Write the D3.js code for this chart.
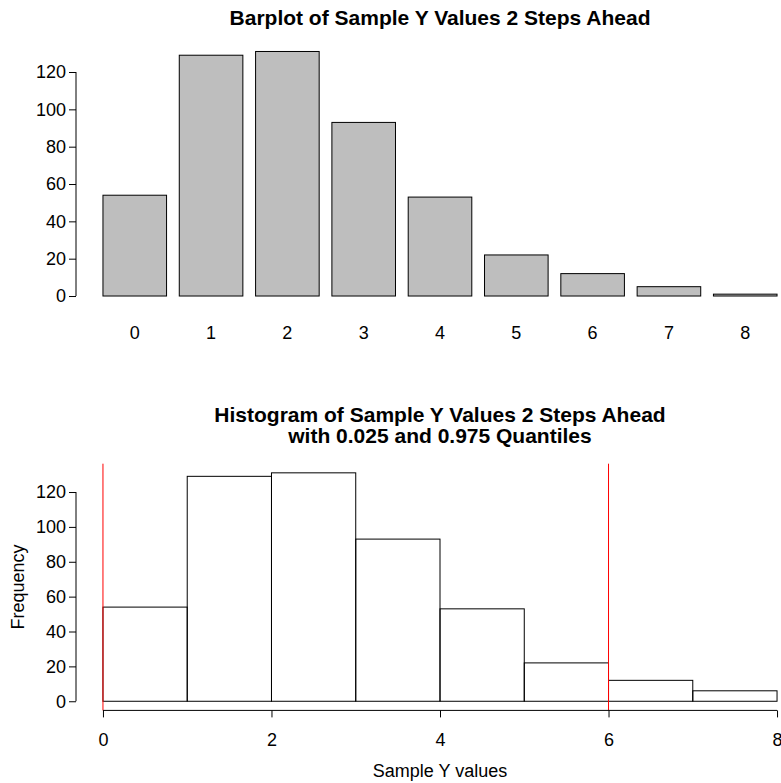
<!DOCTYPE html>
<html>
<head>
<meta charset="utf-8">
<script src="https://cdn.jsdelivr.net/npm/d3@7"></script>
<style>
  body { margin: 0; background: #fff; }
  svg { font-family: "Liberation Sans", Arial, Helvetica, sans-serif; }
</style>
</head>
<body>
<div id="chart"></div>
<script>
var canvasWidth = 781;
var canvasHeight = 783;

/*Data*/
var categories = ["0", "1", "2", "3", "4", "5", "6", "7", "8"];
var barCounts = [54, 129, 131, 93, 53, 22, 12, 5, 1];
var histBreaks = [0, 1, 2, 3, 4, 5, 6, 7, 8];
var histCounts = [54, 129, 131, 93, 53, 22, 12, 6];
var quantiles = [0, 6];
var yTicks = [0, 20, 40, 60, 80, 100, 120];
var histXTicks = [0, 2, 4, 6, 8];

var axisFont = "18px";
var titleFont = "21px";

var svg = d3.select("div#chart").append("svg")
    .attr("width", canvasWidth)
    .attr("height", canvasHeight);

/*Plot region (R style, 4% padding on the data range)*/
var plotLeft = 76, plotRight = 804;

function styleAxisText(g) {
    g.selectAll("text")
        .style("font-size", axisFont)
        .style("font-family", "Liberation Sans, Arial, sans-serif")
        .attr("fill", "#000");
}

/*---------- Barplot ----------*/
var xScaleB = d3.scaleLinear().domain([-0.224, 11.224]).range([plotLeft, plotRight]);
var yScaleB = d3.scaleLinear().domain([-5.24, 136.24]).range([305.8, 41.7]);

svg.append("text")
    .attr("x", 440)
    .attr("y", 25)
    .attr("text-anchor", "middle")
    .style("font-weight", "bold")
    .style("font-size", titleFont)
    .text("Barplot of Sample Y Values 2 Steps Ahead");

svg.append("g").selectAll("rect")
    .data(barCounts)
    .join("rect")
    .attr("x", function(d, i) { return xScaleB(0.2 + 1.2 * i); })
    .attr("width", function(d, i) { return xScaleB(1.2 + 1.2 * i) - xScaleB(0.2 + 1.2 * i); })
    .attr("y", function(d) { return yScaleB(d); })
    .attr("height", function(d) { return yScaleB(0) - yScaleB(d); })
    .attr("fill", "#bebebe")
    .attr("stroke", "#000")
    .attr("stroke-width", 1);

/*category names under bars*/
svg.append("g").selectAll("text")
    .data(categories)
    .join("text")
    .attr("x", function(d, i) { return xScaleB(0.7 + 1.2 * i); })
    .attr("y", 339)
    .attr("text-anchor", "middle")
    .style("font-size", axisFont)
    .text(function(d) { return d; });

/*Y axis*/
var yAxisB = svg.append("g")
    .attr("transform", "translate(" + plotLeft + ",0)")
    .call(d3.axisLeft(yScaleB).tickValues(yTicks).tickSize(7).tickPadding(3));
yAxisB.select(".domain").remove();
yAxisB.append("line")
    .attr("x1", 0).attr("x2", 0)
    .attr("y1", yScaleB(d3.min(yTicks))).attr("y2", yScaleB(d3.max(yTicks)))
    .attr("stroke", "#000");
styleAxisText(yAxisB);

/*---------- Histogram ----------*/
var xScaleH = d3.scaleLinear().domain([-0.32, 8.32]).range([plotLeft, plotRight]);
var yScaleH = d3.scaleLinear().domain([-5.24, 136.24]).range([710.4, 463.7]);

svg.append("text")
    .attr("x", 440)
    .attr("y", 422)
    .attr("text-anchor", "middle")
    .style("font-weight", "bold")
    .style("font-size", titleFont)
    .text("Histogram of Sample Y Values 2 Steps Ahead");
svg.append("text")
    .attr("x", 440)
    .attr("y", 443)
    .attr("text-anchor", "middle")
    .style("font-weight", "bold")
    .style("font-size", titleFont)
    .text("with 0.025 and 0.975 Quantiles");

svg.append("g").selectAll("rect")
    .data(histCounts)
    .join("rect")
    .attr("x", function(d, i) { return xScaleH(histBreaks[i]); })
    .attr("width", function(d, i) { return xScaleH(histBreaks[i + 1]) - xScaleH(histBreaks[i]); })
    .attr("y", function(d) { return yScaleH(d); })
    .attr("height", function(d) { return yScaleH(0) - yScaleH(d); })
    .attr("fill", "none")
    .attr("stroke", "#000")
    .attr("stroke-width", 1);

/*quantile lines*/
svg.append("g").selectAll("line")
    .data(quantiles)
    .join("line")
    .attr("x1", function(d) { return xScaleH(d); })
    .attr("x2", function(d) { return xScaleH(d); })
    .attr("y1", yScaleH.range()[1])
    .attr("y2", yScaleH.range()[0])
    .attr("stroke", "#ff0000")
    .attr("stroke-width", 1);

/*X axis*/
var xAxisH = svg.append("g")
    .attr("transform", "translate(0," + yScaleH.range()[0] + ")")
    .call(d3.axisBottom(xScaleH).tickValues(histXTicks).tickSize(7).tickPadding(16));
xAxisH.select(".domain").remove();
xAxisH.append("line")
    .attr("x1", xScaleH(d3.min(histXTicks))).attr("x2", xScaleH(d3.max(histXTicks)))
    .attr("y1", 0).attr("y2", 0)
    .attr("stroke", "#000");
styleAxisText(xAxisH);

svg.append("text")
    .attr("x", 440)
    .attr("y", 777)
    .attr("text-anchor", "middle")
    .style("font-size", axisFont)
    .text("Sample Y values");

/*Y axis*/
var yAxisH = svg.append("g")
    .attr("transform", "translate(" + plotLeft + ",0)")
    .call(d3.axisLeft(yScaleH).tickValues(yTicks).tickSize(7).tickPadding(3));
yAxisH.select(".domain").remove();
yAxisH.append("line")
    .attr("x1", 0).attr("x2", 0)
    .attr("y1", yScaleH(d3.min(yTicks))).attr("y2", yScaleH(d3.max(yTicks)))
    .attr("stroke", "#000");
styleAxisText(yAxisH);

svg.append("text")
    .attr("transform", "translate(24," + 587 + ") rotate(-90)")
    .attr("text-anchor", "middle")
    .style("font-size", axisFont)
    .text("Frequency");
</script>
</body>
</html>
